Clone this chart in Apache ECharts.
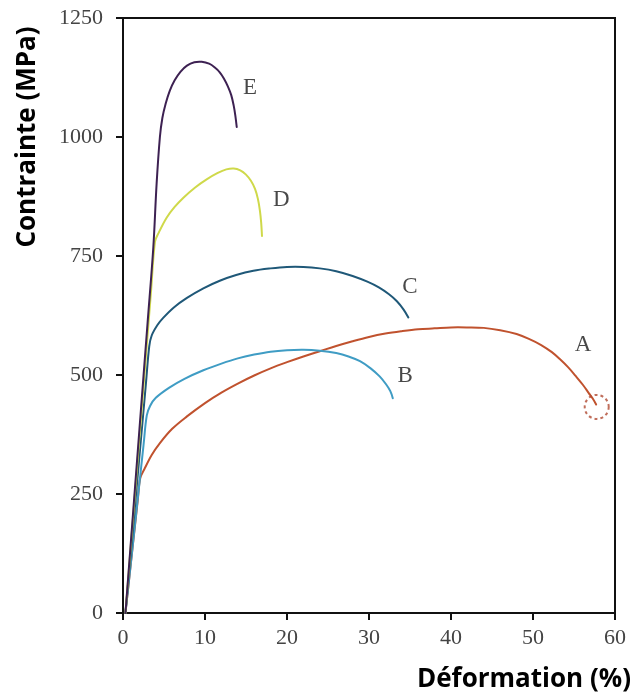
<!DOCTYPE html>
<html>
<head>
<meta charset="utf-8">
<script src="https://cdn.jsdelivr.net/npm/echarts@6/dist/echarts.min.js"></script>
<style>
html,body{margin:0;padding:0;background:#fff;}
#chart{width:632px;height:694px;}
</style>
</head>
<body>
<div id="chart"></div>
<script>
// Strain (%) , stress (MPa) points
const curveA = [[0.3,0],[1.8,237],[2.1,283],[2.6,302],[3.5,332],[4.5,357],[6,387],[7.8,413],[10,441],[12,463],[14,482],[16,499],[18,514],[20,527],[22,539],[24,550],[26,561],[28,571],[30,580],[32,587],[34,592],[36,596],[38,598],[40,600],[42,600],[44,599],[46,594],[48,586],[49.5,576],[51,563],[52.3,548],[53.3,533],[54.3,516],[55.2,498],[56.1,479],[56.8,462],[57.3,450],[57.7,438]];
const curveB = [[0.3,0],[2.5,352],[2.9,415],[3.3,435],[4.0,452],[5.7,474],[7.5,492],[9.8,510],[12,524],[14,535],[16,543],[18,549],[20,552],[22,553],[24,551],[26,546],[27.5,539],[28.9,529],[30.2,514],[31.3,497],[32.1,480],[32.6,466],[32.9,451]];
const curveC = [[0.3,0],[2.8,483],[3.2,560],[3.5,583],[4.2,605],[4.9,620],[6.2,642],[7.8,662],[9.8,682],[11.8,698],[13.8,710],[15.9,719],[18,724],[20,727],[22,727],[24,724],[26,718],[28,708],[29.8,696],[31.2,684],[32.4,670],[33.4,655],[34.2,638],[34.8,621]];
const curveD = [[0.3,0],[3.4,672],[3.9,780],[4.3,797],[5.3,830],[6.3,853],[7.4,873],[8.8,894],[10.2,911],[11.5,924],[12.6,932],[13.5,934],[14.3,930],[15.0,921],[15.6,908],[16.1,891],[16.45,870],[16.7,845],[16.85,820],[16.95,792]];
const curveE = [[0.3,0],[2.0,385],[3.0,610],[3.7,769],[4.1,902],[4.5,1000],[4.8,1040],[5.2,1070],[5.7,1097],[6.3,1119],[7.0,1137],[7.8,1150],[8.7,1157],[9.6,1158],[10.5,1154],[11.2,1146],[11.8,1136],[12.3,1123],[12.8,1106],[13.2,1088],[13.5,1066],[13.7,1045],[13.87,1021]];
const curveNames = ['A','B','C','D','E'];
const curveColors = ['#c0522e','#3f9cc4','#1f5878','#cfd94a','#3d2152'];
const labelPoints = [[56.1,563,'A'],[34.4,497,'B'],[35.0,684,'C'],[19.3,867,'D'],[15.5,1102,'E']];
const fracturePoint = [[57.77,433]];
const xTicks = {min:0,max:60,interval:10};
const yTicks = {min:0,max:1250,interval:250};
const xTitle = 'Déformation (%)';
const yTitle = 'Contrainte (MPa)';

const curves = [curveA,curveB,curveC,curveD,curveE];
const chart = echarts.init(document.getElementById('chart'));
const lineSeries = curves.map((d,i)=>({
  name: curveNames[i],
  type:'custom',
  data:d,
  encode:{x:0,y:1},
  silent:true,
  z: 2+i,
  renderItem:(params,api)=>{
    if (params.dataIndex !== 0) return null;
    const pts = d.map(p=>api.coord(p));
    return {type:'polyline',shape:{points:pts,smooth:0.35},
      style:{stroke:curveColors[i],lineWidth:2,fill:'none',lineJoin:'round',lineCap:'round'}};
  }
}));
const tickFont = {fontFamily:'Liberation Serif',fontSize:22,color:'#444',formatter:v=>String(v)};
chart.setOption({
  backgroundColor:'#fff',
  animation:false,
  grid:{left:123,right:17,top:18,bottom:81,show:true,borderColor:'#111',borderWidth:2,backgroundColor:'transparent'},
  xAxis:{type:'value',min:xTicks.min,max:xTicks.max,interval:xTicks.interval,
    axisLine:{show:true,onZero:false,lineStyle:{color:'#111',width:2}},
    axisTick:{show:true,length:7,lineStyle:{color:'#111',width:2}},
    axisLabel:Object.assign({margin:14},tickFont),
    splitLine:{show:false}},
  yAxis:{type:'value',min:yTicks.min,max:yTicks.max,interval:yTicks.interval,
    axisLine:{show:true,onZero:false,lineStyle:{color:'#111',width:2}},
    axisTick:{show:true,length:7,lineStyle:{color:'#111',width:2}},
    axisLabel:Object.assign({margin:20},tickFont),
    splitLine:{show:false}},
  graphic:[
    {type:'text',x:524,y:680,style:{text:xTitle,font:'bold 26px "Open Sans"',fill:'#000',textAlign:'center',textVerticalAlign:'middle'}},
    {type:'text',x:28,y:137,rotation:Math.PI/2,style:{text:yTitle,font:'bold 26px "Open Sans"',fill:'#000',textAlign:'center',textVerticalAlign:'middle'}}
  ],
  series: lineSeries.concat([
    {type:'scatter',data:labelPoints,symbolSize:0,silent:true,z:10,
      label:{show:true,position:'inside',formatter:p=>p.value[2],fontFamily:'Liberation Serif',fontSize:23,color:'#1a1a1a'}},
    {type:'scatter',data:fracturePoint,symbol:'circle',symbolSize:24,silent:true,z:11,
      itemStyle:{color:'rgba(0,0,0,0)',borderColor:'#b04a32',borderWidth:2,borderType:[3,3]}}
  ])
});
</script>
</body>
</html>
